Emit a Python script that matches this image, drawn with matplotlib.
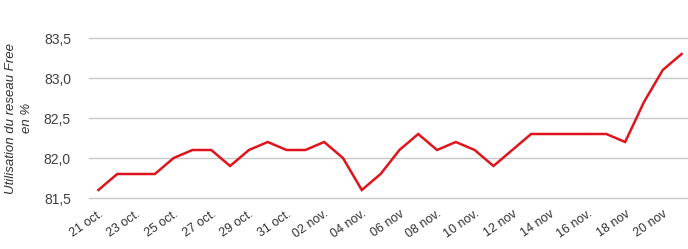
import matplotlib
matplotlib.use("Agg")
import matplotlib.pyplot as plt
import numpy as np

# utilisation quotidienne du reseau Free, 21 oct. -> 21 nov.
jours = ["21 oct.", "22 oct.", "23 oct.", "24 oct.", "25 oct.", "26 oct.", "27 oct.", "28 oct.",
         "29 oct.", "30 oct.", "31 oct.", "01 nov.", "02 nov.", "03 nov.", "04 nov.", "05 nov.",
         "06 nov", "07 nov.", "08 nov.", "09 nov.", "10 nov.", "11 nov.", "12 nov", "13 nov",
         "14 nov", "15 nov", "16 nov.", "17 nov", "18 nov", "19 nov", "20 nov", "21 nov"]
utilisation = [81.6, 81.8, 81.8, 81.8, 82.0, 82.1, 82.1, 81.9,
               82.1, 82.2, 82.1, 82.1, 82.2, 82.0, 81.6, 81.8,
               82.1, 82.3, 82.1, 82.2, 82.1, 81.9, 82.1, 82.3,
               82.3, 82.3, 82.3, 82.3, 82.2, 82.7, 83.1, 83.3]
yticks = [81.5, 82.0, 82.5, 83.0, 83.5]

plt.rcParams['font.family'] = ['Liberation Sans', 'DejaVu Sans']

fig = plt.figure(figsize=(6.88, 2.49), dpi=100)
ax = fig.add_axes([89/688, 51/249, (691-89)/688, 160/249])

x = np.arange(len(jours))
ax.plot(x, utilisation, color='#e0141c', lw=1.8, solid_joinstyle='miter')

ax.set_xlim(-0.5, len(jours) - 0.5)
ax.set_ylim(81.5, 83.5)
ax.set_yticks(yticks)
ax.set_yticklabels([f"{v:.1f}".replace('.', ',') for v in yticks], fontsize=10, color='#404040')
ax.set_xticks(x[::2])
ax.set_xticklabels(jours[::2], rotation=35, ha='right', va='top',
                   rotation_mode='anchor', fontsize=9, color='#303030')
ax.tick_params(axis='both', length=0)
ax.tick_params(axis='y', pad=13)
ax.tick_params(axis='x', pad=7)
ax.grid(axis='y', color='#c8c8c8', lw=1)
for gl in ax.get_ygridlines():
    gl.set_clip_on(False)
for s in ax.spines.values():
    s.set_visible(False)

fig.text(19/688, 131/249, "Utilisation du reseau Free\nen %", fontsize=9.5, style='italic',
         color='#303030', linespacing=1.45, rotation=90, ha='center', va='center')

fig.savefig("out.png", dpi=100)
